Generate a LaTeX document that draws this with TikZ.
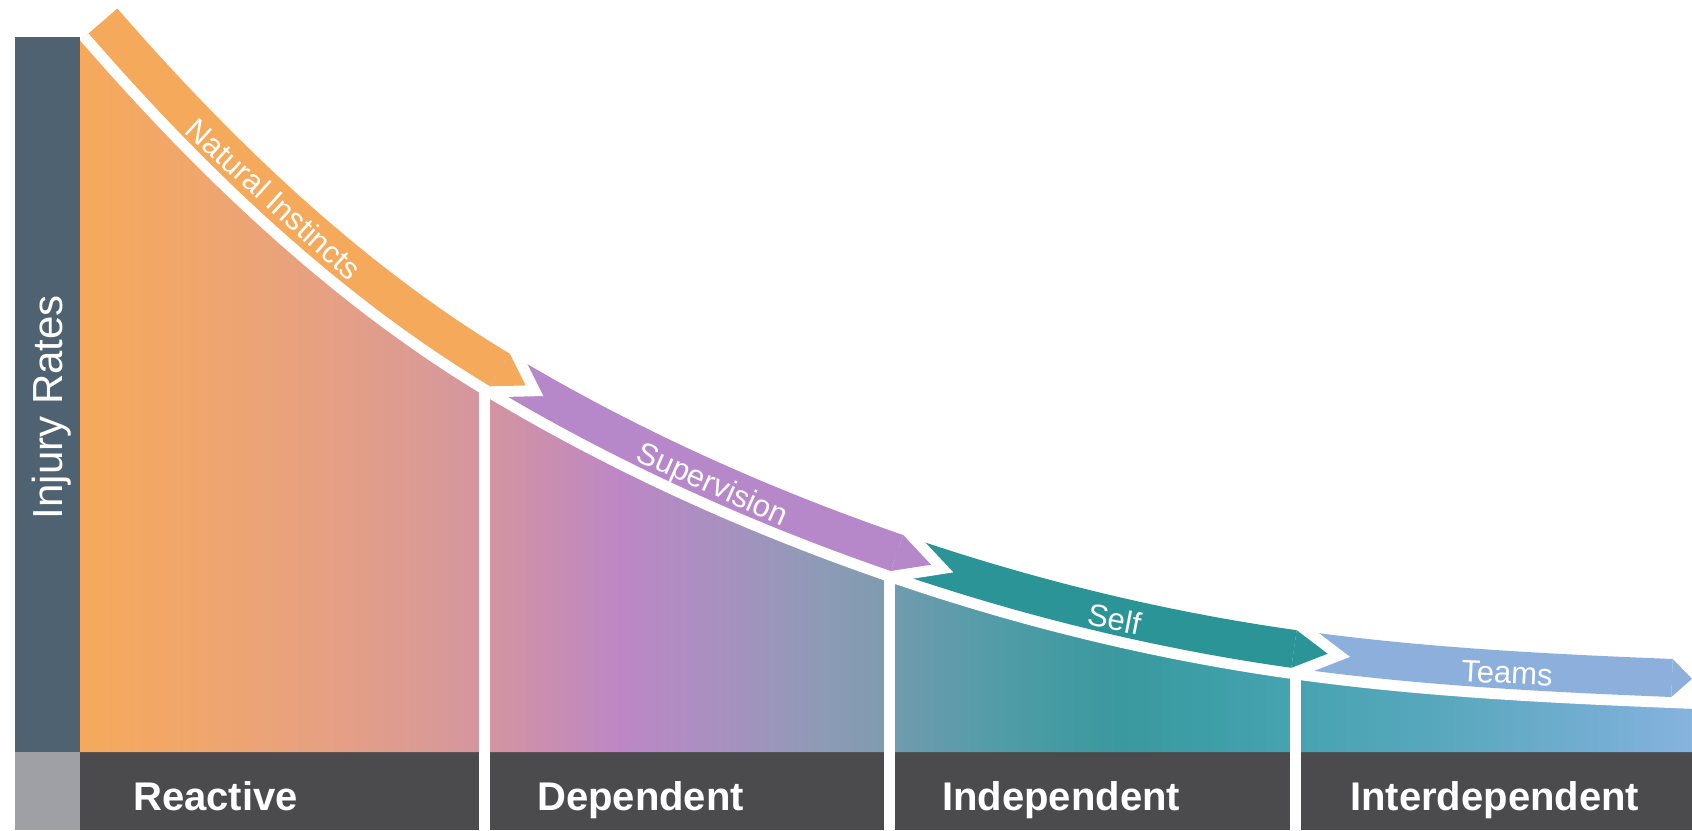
\documentclass[tikz,border=0pt]{standalone}
\usepackage{fontspec}
\setmainfont{Liberation Sans}
\usetikzlibrary{calc}

% palette
\definecolor{barslate}{HTML}{4E6272}
\definecolor{cornergrey}{HTML}{9FA0A5}
\definecolor{bandgrey}{HTML}{4B4B4D}
\definecolor{instinct}{HTML}{F5A95A}
\definecolor{supervis}{HTML}{B687C9}
\definecolor{selfteal}{HTML}{2B9497}
\definecolor{teamblue}{HTML}{8DAFDC}

% colour stops of the area under the curve (left to right)
\definecolor{ga}{HTML}{F6A95B}
\definecolor{gb}{HTML}{F0A66C}
\definecolor{gc}{HTML}{E6A083}
\definecolor{gd}{HTML}{D5979D}
\definecolor{ge}{HTML}{CE91A8}
\definecolor{gf}{HTML}{BD87C6}
\definecolor{gg}{HTML}{A890C0}
\definecolor{gh}{HTML}{8E9BB6}
\definecolor{gi}{HTML}{7E9BAF}
\definecolor{gj}{HTML}{6F9BAE}
\definecolor{gk}{HTML}{509CA7}
\definecolor{gl}{HTML}{3A999E}
\definecolor{gm}{HTML}{3F9FA9}
\definecolor{gn}{HTML}{47A3B1}
\definecolor{go}{HTML}{5AA8BE}
\definecolor{gp}{HTML}{74AED2}
\definecolor{gq}{HTML}{86B3DF}

\pgfdeclarehorizontalshading{injurygrad}{100bp}{%
  color(0bp)=(ga); color(25bp)=(ga); color(28.72bp)=(gb); color(32.75bp)=(gc);
  color(37.10bp)=(gd); color(38.65bp)=(ge); color(41.75bp)=(gf); color(44.85bp)=(gg);
  color(47.95bp)=(gh); color(49.97bp)=(gi); color(50.43bp)=(gj); color(53.54bp)=(gk);
  color(57.26bp)=(gl); color(60.36bp)=(gm); color(62.84bp)=(gn); color(67.49bp)=(go);
  color(72.15bp)=(gp); color(75bp)=(gq); color(100bp)=(gq)}

\begin{document}
\begin{tikzpicture}[x=1pt,y=-1pt,
  tipgap/.style={white, line width=22pt, line join=miter},
  stagelabel/.style={anchor=base west, inner sep=0pt, text=white,
    font=\fontsize{40pt}{48pt}\selectfont\bfseries},
  arrowlabel/.style={anchor=center, inner sep=0pt, text=white, text depth=0pt,
    font=\fontsize{31pt}{36pt}\selectfont},
  axislabel/.style={anchor=base, inner sep=0pt, text=white,
    font=\fontsize{42pt}{50pt}\selectfont},
  divider/.style={white, line width=11pt}]

\useasboundingbox (0,0) rectangle (1692,830);
\clip (0,0) rectangle (1692,830);
\fill[white] (0,0) rectangle (1692,830);

% points on the centre line of the arrow band
\coordinate (P0) at (103,21);
\coordinate (P1) at (500,370);
\coordinate (P2) at (897,553);
\coordinate (P3) at (1294,649);
\coordinate (P4) at (1672,678);
\coordinate (P5) at (1760,681);

% axis bar and bottom band
\fill[barslate] (15,37) rectangle (80,752);
\fill[cornergrey] (15,752) rectangle (80,830);
\fill[bandgrey] (80,752) rectangle (1692,830);

% shaded area under the curve
\begin{scope}
  \clip (80,752) -- (80,41) -- (P0)
    .. controls +(49:176) and +(211:176) .. (P1)
    .. controls +(31:146) and +(199:146) .. (P2)
    .. controls +(19:136) and +(188:136) .. (P3)
    .. controls +(8:126) and +(182.3:126) .. (P4)
    .. controls +(2.3:28) and +(181.5:28) .. (P5)
    -- (1760,752) -- cycle;
  \shade[shading=injurygrad] (80,0) rectangle (1692,752);
\end{scope}

% stage dividers
\coordinate (d1top) at (484,370);  \coordinate (d1bot) at (484,830);
\coordinate (d2top) at (889,553);  \coordinate (d2bot) at (889,830);
\coordinate (d3top) at (1295,649); \coordinate (d3bot) at (1295,830);
\draw[divider] (d1top) -- (d1bot);
\draw[divider] (d2top) -- (d2bot);
\draw[divider] (d3top) -- (d3bot);

% white gap under the arrow band
\draw[white, line width=60pt] (P0)
    .. controls +(49:176) and +(211:176) .. (P1)
    .. controls +(31:146) and +(199:146) .. (P2)
    .. controls +(19:136) and +(188:136) .. (P3)
    .. controls +(8:126) and +(182.3:126) .. (P4)
    .. controls +(2.3:28) and +(181.5:28) .. (P5);

% Teams
\draw[tipgap] ($(P4)+(-87.7:19)$) -- ($(P4)+(2.3:20)$) -- ($(P4)+(92.3:19)$);
\fill[teamblue] ($(P4)+(-87.7:19)$) -- ($(P4)+(2.3:20)$) -- ($(P4)+(92.3:19)$) -- cycle;
\draw[teamblue, line width=38pt] (P3) .. controls +(8:126) and +(182.3:126) .. (P4);

% Self
\draw[tipgap] ($(P3)+(-82:19)$) -- ($(P3)+(8:34)$) -- ($(P3)+(98:19)$);
\fill[selfteal] ($(P3)+(-82:19)$) -- ($(P3)+(8:34)$) -- ($(P3)+(98:19)$) -- cycle;
\draw[selfteal, line width=38pt] (P2) .. controls +(19:136) and +(188:136) .. (P3);

% Supervision
\draw[tipgap] ($(P2)+(-71:19)$) -- ($(P2)+(19:36)$) -- ($(P2)+(109:19)$);
\fill[supervis] ($(P2)+(-71:19)$) -- ($(P2)+(19:36)$) -- ($(P2)+(109:19)$) -- cycle;
\draw[supervis, line width=38pt] (P1) .. controls +(31:146) and +(199:146) .. (P2);

% Natural Instincts
\draw[tipgap] ($(P1)+(-59:19)$) -- ($(P1)+(31:30)$) -- ($(P1)+(121:19)$);
\fill[instinct] ($(P1)+(-59:19)$) -- ($(P1)+(31:30)$) -- ($(P1)+(121:19)$) -- cycle;
\draw[instinct, line width=38pt] (P0) .. controls +(49:176) and +(211:176) .. (P1);

% labels on the arrows
\node[arrowlabel, rotate=-42] (lblA) at (274,199) {Natural Instincts};
\node[arrowlabel, rotate=-24] (lblB) at (713,483) {Supervision};
\node[arrowlabel, rotate=-11] (lblC) at (1115,619) {Self};
\node[arrowlabel, rotate=-3]  (lblD) at (1507,673) {Teams};

% axis title
\node[axislabel, rotate=90] (yl) at (62,407) {Injury Rates};

% stage names
\node[stagelabel] (st1) at (133,810) {Reactive};
\node[stagelabel] (st2) at (537,810) {Dependent};
\node[stagelabel] (st3) at (942,810) {Independent};
\node[stagelabel] (st4) at (1350,810) {Interdependent};
\end{tikzpicture}
\end{document}
